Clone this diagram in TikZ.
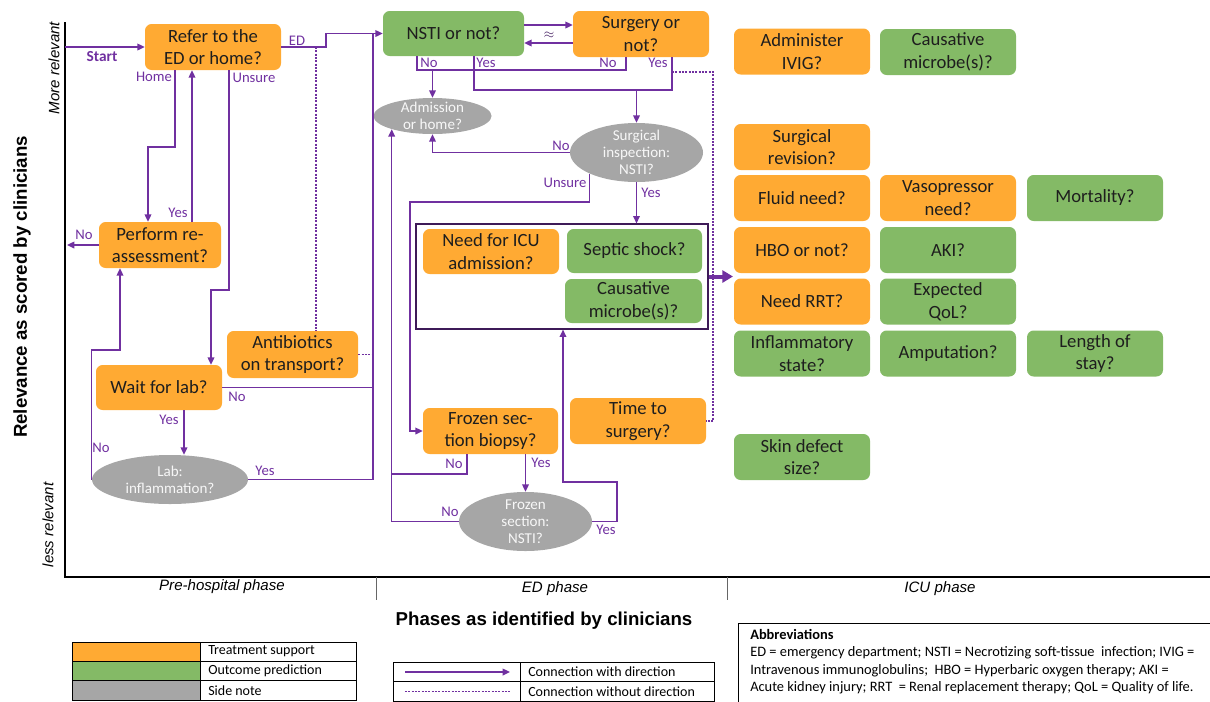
\documentclass[tikz,border=0pt]{standalone}
\usepackage{fontspec}
\setmainfont{Carlito}
\newfontfamily\arialfont{Liberation Sans}
\usetikzlibrary{arrows.meta,shapes.geometric}
\definecolor{treat}{RGB}{255,170,51}
\definecolor{outc}{RGB}{132,186,102}
\definecolor{sidenote}{RGB}{166,166,166}
\definecolor{link}{RGB}{112,48,160}
\definecolor{boxtext}{RGB}{30,30,30}
\tikzset{
 qbox/.style={rounded corners=5pt,minimum width=102pt,minimum height=34.5pt,inner sep=1pt,
   align=center,text=boxtext,font=\fontsize{14}{17}\selectfont},
 treatbox/.style={qbox,fill=treat},
 outcbox/.style={qbox,fill=outc},
 notebox/.style={ellipse,fill=sidenote,inner sep=-4pt,align=center,text=white!94!gray,
   font=\fontsize{11.3}{12.8}\selectfont},
 flow/.style={link,line width=1pt,-{Triangle[length=5.5pt,width=5pt]}},
 wire/.style={link,line width=1pt},
 nodir/.style={link,line width=0.8pt,dash pattern=on 1.5pt off 1pt},
 lbl/.style={link,inner sep=1pt,font=\fontsize{11}{12}\selectfont},
 axtext/.style={font=\arialfont\itshape\fontsize{11.3}{13}\selectfont},
 legtext/.style={anchor=west,inner sep=0pt,font=\fontsize{10.5}{12}\selectfont},
}
\begin{document}
\begin{tikzpicture}[x=0.75pt,y=-0.75pt]
 \useasboundingbox (0,0) rectangle (1210,701);
 % axes
 \draw[line width=1.5pt] (65,22) -- (65,577) -- (1210,577);
 \draw[black!60,line width=0.6pt] (376,577) -- (376,600) (727,577) -- (727,600);
 \node[rotate=90,font=\arialfont\bfseries\fontsize{14}{16}\selectfont] (ytitle) at (22,287) {Relevance as scored by clinicians};
 \node[rotate=90,axtext] (ymore) at (54,68) {More relevant};
 \node[rotate=90,axtext] (yless) at (48,525) {less relevant};
 \node[axtext] (ph1) at (222,587) {Pre-hospital phase};
 \node[axtext] (ph2) at (555,589) {ED phase};
 \node[axtext] (ph3) at (940,589) {ICU phase};
 \node[font=\arialfont\bfseries\fontsize{14}{16}\selectfont] (xtitle) at (544,621) {Phases as identified by clinicians};

 % pre-hospital phase
 \node[treatbox] (refer) at (213,47) {Refer to the\\ED or home?};
 \node[treatbox,minimum width=91.5pt] (perform) at (160,245) {Perform re-\\assessment?};
 \node[treatbox,minimum width=94.5pt,minimum height=33.75pt] (wait) at (159,387.5) {Wait for lab?};
 \node[treatbox,minimum width=98.25pt,minimum height=35.25pt] (antib) at (292.5,354.5) {Antibiotics\\on transport?};
 \node[notebox,minimum width=117pt,minimum height=36.75pt] (lab) at (170,479.5) {Lab:\\inflammation?};

 % ED phase
 \node[outcbox,minimum width=105.75pt,minimum height=33.75pt] (nsti) at (453.5,33.5) {NSTI or not?};
 \node[treatbox] (surgery) at (641,34) {Surgery or\\not?};
 \node[notebox,minimum width=88.5pt,minimum height=27pt] (adm) at (432.5,116) {Admission\\or home?};
 \node[notebox,minimum width=99.75pt,minimum height=44.25pt] (surg) at (636.5,152.5) {Surgical\\inspection:\\NSTI?};
 \node[draw=link!55!black,line width=0.9pt,minimum width=219pt,minimum height=78.75pt,inner sep=0pt] (stage) at (562,276.5) {};
 \node[treatbox,minimum height=33.75pt] (icu) at (491,251.5) {Need for ICU\\admission?};
 \node[outcbox,minimum width=101.25pt,minimum height=33pt] (septic) at (634.5,251) {Septic shock?};
 \node[outcbox,minimum width=102.75pt,minimum height=33pt] (microbe) at (633.5,301) {Causative\\microbe(s)?};
 \node[treatbox,minimum width=101.25pt] (frozen) at (490.5,431) {Frozen sec-\\tion biopsy?};
 \node[treatbox] (timesurg) at (638,421) {Time to\\surgery?};
 \node[notebox,minimum width=99.75pt,minimum height=44.25pt] (fsec) at (525.5,521.5) {Frozen\\section:\\NSTI?};

 \coordinate (axstart) at (65,47);
 \coordinate (axno) at (67,245);
 \draw[flow] (axstart) -- (refer.west);
 \node[lbl,font=\bfseries\fontsize{11.5}{12}\selectfont] (lstart) at (102,57) {Start};
 \draw[flow] (refer.east) -- (326,47) |- (nsti.west);
 \node[lbl] (led) at (297,41) {ED};
 \draw[wire] (lab.east) -| (373,33.5);
 \draw[wire] (wait.east) -- (wait.east -| 373,0);
 \draw[nodir] (316,47) -- (antib.north -| 316,0);
 \draw[nodir] (antib.east) -- (antib.east -| 373,0);
 \draw[flow] (refer.south -| 175,0) |- (148,147) -- (perform.north -| 148,0);
 \node[lbl] (lhome) at (154,77) {Home};
 \draw[flow] (perform.north -| 192,0) -- (refer.south -| 192,0);
 \node[lbl] (lpyes) at (178,213) {Yes};
 \draw[flow] (perform.west) -- (axno);
 \node[lbl] (lpno) at (84,235) {No};
 \draw[flow] (refer.south -| 229,0) |- (211,290) -- (wait.north -| 211,0);
 \node[lbl] (lunsure) at (254,78) {Unsure};
 \draw[flow] (wait.south -| 184,0) -- (lab.north -| 184,0);
 \node[lbl] (lwyes) at (169,420) {Yes};
 \node[lbl] (lwno) at (237,397) {No};
 \draw[flow] (lab.west) |- (120,350) -- (perform.south -| 120,0);
 \node[lbl] (llno) at (101,448) {No};
 \node[lbl] (llyes) at (265,471) {Yes};

 \draw[flow] (nsti.east |- 0,25) -- (surgery.west |- 0,25);
 \draw[flow] (surgery.west |- 0,43) -- (nsti.east |- 0,43);
 \node[link!60!black] (approx) at (549,35) {$\approx$};
 \draw[wire] (nsti.south -| 417,0) |- (626,70) -- (surgery.south -| 626,0);
 \draw[flow] (432.5,70) -- (adm.north);
 \node[lbl] (lnno) at (429,63) {No};
 \node[lbl] (lsno) at (608,63) {No};
 \draw[wire] (nsti.south -| 474,0) |- (672,90) -- (surgery.south -| 672,0);
 \draw[flow] (636.5,90) -- (surg.north);
 \node[lbl] (lnyes) at (486,63) {Yes};
 \node[lbl] (lsyes) at (658,63) {Yes};
 \draw[nodir] (672,72) -| (713,421) -- (timesurg.east);
 \draw[flow] (surg.west) -| (adm.south);
 \node[lbl] (lino) at (561,146) {No};
 \draw[flow] (surg.south west) |- (410,202) |- (frozen.west);
 \node[lbl] (liunsure) at (565,183) {Unsure};
 \draw[flow] (surg.south) -- (stage.north -| surg.south);
 \node[lbl] (liyes) at (651,193) {Yes};
 \draw[flow] (frozen.south -| fsec.north) -- (fsec.north);
 \node[lbl] (lfyes) at (541,463) {Yes};
 \draw[wire] (frozen.south -| 467,0) |- (392,474);
 \node[lbl] (lfno) at (454,464) {No};
 \draw[flow] (fsec.west) -| (adm.198);
 \node[lbl] (lsecno) at (450,512) {No};
 \draw[flow] (fsec.east) -| (617,482) -| (stage.south -| 563,0);
 \node[lbl] (lsecyes) at (606,530) {Yes};
 \draw[link,line width=3pt,-{Triangle[length=8pt,width=9pt]}] (stage.east) -- (stage.east -| 733,0);

 % ICU phase
 \node[treatbox] (ivig) at (802,51.5) {Administer\\IVIG?};
 \node[outcbox] (microbe2) at (948,52) {Causative\\microbe(s)?};
 \node[treatbox] (revision) at (802,147) {Surgical\\revision?};
 \node[treatbox] (fluid) at (802,198) {Fluid need?};
 \node[treatbox] (vaso) at (948,198) {Vasopressor\\need?};
 \node[outcbox] (mort) at (1095,198) {Mortality?};
 \node[treatbox] (hbo) at (802,250) {HBO or not?};
 \node[outcbox] (aki) at (948,250) {AKI?};
 \node[treatbox] (rrt) at (802,301.5) {Need RRT?};
 \node[outcbox] (qol) at (948,301.5) {Expected\\QoL?};
 \node[outcbox] (inflam) at (802,353.5) {Inflammatory\\state?};
 \node[outcbox] (amput) at (948,353.5) {Amputation?};
 \node[outcbox] (stay) at (1095,353.5) {Length of\\stay?};
 \node[outcbox] (skin) at (802,457) {Skin defect\\size?};

 % legends
 \foreach \c/\t [count=\i] in {treat/Treatment support,outc/Outcome prediction,sidenote/Side note}{
   \fill[\c] (72,{642+19.3*(\i-1)}) rectangle (200,{642+19.3*\i});
   \draw[line width=0.6pt] (72,{642+19.3*(\i-1)}) rectangle (356,{642+19.3*\i});
   \node[legtext] (leg\i) at (208,{651.6+19.3*(\i-1)}) {\t};
 }
 \draw[line width=0.6pt] (200,642) -- (200,700);
 \draw[line width=0.6pt] (393,662) rectangle (714,701) (520,662) -- (520,701) (393,681.5) -- (714,681.5);
 \coordinate (arrA) at (405,672);
 \coordinate (arrB) at (510,672);
 \coordinate (dotA) at (405,691.5);
 \coordinate (dotB) at (510,691.5);
 \draw[flow] (arrA) -- (arrB);
 \draw[nodir] (dotA) -- (dotB);
 \node[legtext] (legdir) at (528,672) {Connection with direction};
 \node[legtext] (legnodir) at (528,691.5) {Connection without direction};
 \draw[line width=0.6pt] (738,623) rectangle (1216,706);
 \node[anchor=north west,align=left,inner sep=0pt,font=\fontsize{10.8}{13.1}\selectfont] (abbr) at (750,629)
   {\textbf{Abbreviations}\\
    ED = emergency department; NSTI = Necrotizing soft-tissue\ \ infection; IVIG =\\
    Intravenous immunoglobulins;\ \ HBO = Hyperbaric oxygen therapy; AKI =\\
    Acute kidney injury; RRT\ \ = Renal replacement therapy; QoL = Quality of life.};
\end{tikzpicture}
\end{document}
